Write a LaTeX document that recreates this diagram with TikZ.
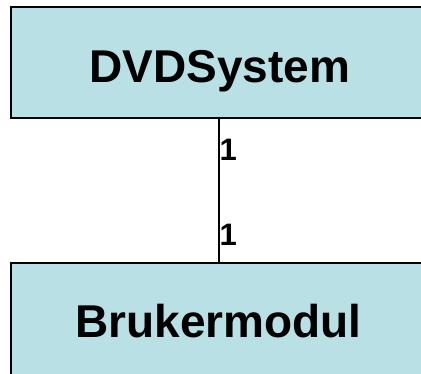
\documentclass[tikz,border=0pt]{standalone}
\usepackage{fontspec}
\setmainfont{Liberation Sans}
\definecolor{boxfill}{RGB}{185,224,228}
\begin{document}
\begin{tikzpicture}[x=1pt,y=-1pt,
  classbox/.style={draw=black, line width=2pt, fill=boxfill, inner sep=0pt, minimum width=416pt},
  title/.style={font=\fontsize{46}{46}\selectfont\bfseries, inner sep=0pt, anchor=base},
  mult/.style={font=\fontsize{31}{31}\selectfont\bfseries, inner sep=0pt, anchor=base west},
  link/.style={draw=black, line width=1.8pt}]
\useasboundingbox (0,0) rectangle (421,374);
\node[classbox, minimum height=111pt] (top) at (219,62.5) {};
\node[classbox, minimum height=130pt] (bot) at (219,328) {};
\node[title] (toptxt) at (220,83) {DVDSystem};
\node[title] (bottxt) at (218.5,338) {Brukermodul};
\draw[link] (top.south) -- (bot.north);
\node[mult] (m1) at (219.5,161) {1};
\node[mult] (m2) at (219.5,246) {1};
\end{tikzpicture}
\end{document}
